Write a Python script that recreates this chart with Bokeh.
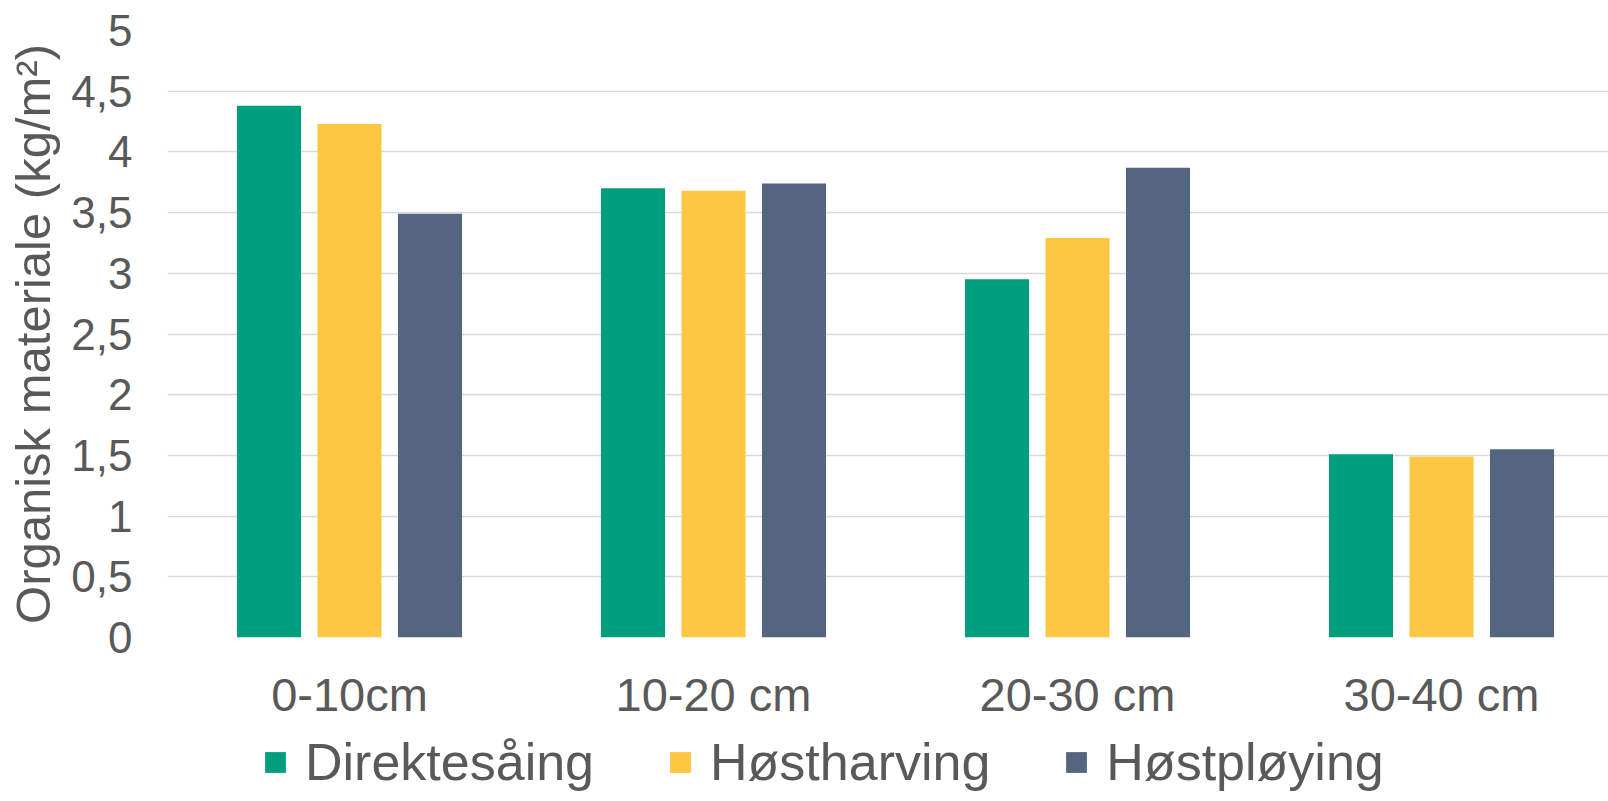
from bokeh.plotting import figure
from bokeh.models import (ColumnDataSource, Range1d, FixedTicker, Legend, LegendItem)
from bokeh.layouts import column
from bokeh.embed import file_html
from bokeh.resources import INLINE

# ---- data ----
categories = ["0-10cm", "10-20 cm", "20-30 cm", "30-40 cm"]
series_names = ["Direktesåing", "Høstharving", "Høstpløying"]
direktesaing = [4.38, 3.70, 2.95, 1.51]
hostharving = [4.23, 3.68, 3.29, 1.49]
hostploying = [3.49, 3.74, 3.87, 1.55]
y_ticks = [0, 0.5, 1, 1.5, 2, 2.5, 3, 3.5, 4, 4.5, 5]
y_tick_labels = ["0", "0,5", "1", "1,5", "2", "2,5", "3", "3,5", "4", "4,5", "5"]
y_title = "Organisk materiale (kg/m²)"

# ---- style ----
colors = ["#009E7C", "#FDC743", "#54667F"]
text_color = "#595959"
grid_color = "#D9D9D9"
font = "Liberation Sans"
bar_width = 0.176
offsets = [-0.2212, 0.0, 0.2212]

p = figure(output_backend="svg", toolbar_location=None,
           width=1608, height=723, frame_width=1441, frame_height=607,
           min_border_left=167, min_border_right=0, min_border_top=30,
           min_border_bottom=0,
           x_range=Range1d(0, 1441 / 364), y_range=Range1d(0, 5))
p.background_fill_color = "white"
p.border_fill_color = "white"
p.outline_line_color = None

# separate strip below the chart that holds the legend
leg_fig = figure(output_backend="svg", toolbar_location=None,
                 width=1608, height=78, x_axis_type=None, y_axis_type=None,
                 min_border_left=0, min_border_right=0, min_border_top=0,
                 min_border_bottom=0,
                 x_range=Range1d(0, 1), y_range=Range1d(10, 11))
leg_fig.outline_line_color = None
leg_fig.background_fill_color = "white"
leg_fig.border_fill_color = "white"
leg_fig.xgrid.visible = False
leg_fig.ygrid.visible = False

centers = [i + 0.5 for i in range(len(categories))]
leg_items = []
for name, vals, col, off in zip(series_names, [direktesaing, hostharving, hostploying], colors, offsets):
    src = ColumnDataSource(dict(x=[c + off for c in centers], top=vals))
    p.vbar(x="x", top="top", width=bar_width, source=src,
           fill_color=col, line_color=None)
    # same series in the legend strip (outside its visible range)
    r2 = leg_fig.vbar(x="x", top="top", width=bar_width, source=src,
                      fill_color=col, line_color=None)
    leg_items.append(LegendItem(label=name, renderers=[r2]))

# grids
p.xgrid.visible = False
p.ygrid.grid_line_color = grid_color
p.ygrid.grid_line_width = 1.5
p.ygrid.level = "underlay"

# y axis
p.yaxis.ticker = FixedTicker(ticks=y_ticks)
p.yaxis.major_label_overrides = dict(zip(y_ticks, y_tick_labels))
p.yaxis.axis_line_color = None
p.yaxis.major_tick_line_color = None
p.yaxis.minor_tick_line_color = None
p.yaxis.major_tick_out = 0
p.yaxis.major_tick_in = 0
p.yaxis.major_label_standoff = 35
p.yaxis.major_label_text_font = font
p.yaxis.major_label_text_font_size = "44px"
p.yaxis.major_label_text_color = text_color
p.yaxis.axis_label = y_title
p.yaxis.axis_label_text_font = font
p.yaxis.axis_label_text_font_size = "49px"
p.yaxis.axis_label_text_font_style = "normal"
p.yaxis.axis_label_text_color = text_color
p.yaxis.axis_label_standoff = 8

# x axis
p.xaxis.ticker = FixedTicker(ticks=centers)
p.xaxis.major_label_overrides = dict(zip(centers, categories))
p.xaxis.axis_line_color = None
p.xaxis.major_tick_line_color = None
p.xaxis.minor_tick_line_color = None
p.xaxis.major_tick_out = 0
p.xaxis.major_tick_in = 0
p.xaxis.major_label_standoff = 30
p.xaxis.major_label_text_font = font
p.xaxis.major_label_text_font_size = "47px"
p.xaxis.major_label_text_color = text_color

legend = Legend(items=leg_items,
                orientation="horizontal", location="center_left",
                label_text_font=font, label_text_font_size="52px",
                label_text_color=text_color,
                glyph_width=26, glyph_height=26, label_standoff=17,
                spacing=73, padding=0, margin=95,
                border_line_color=None, background_fill_alpha=0)
leg_fig.add_layout(legend, "center")

layout = column(p, leg_fig, spacing=0)
open("out.html", "w").write(file_html(layout, INLINE))
